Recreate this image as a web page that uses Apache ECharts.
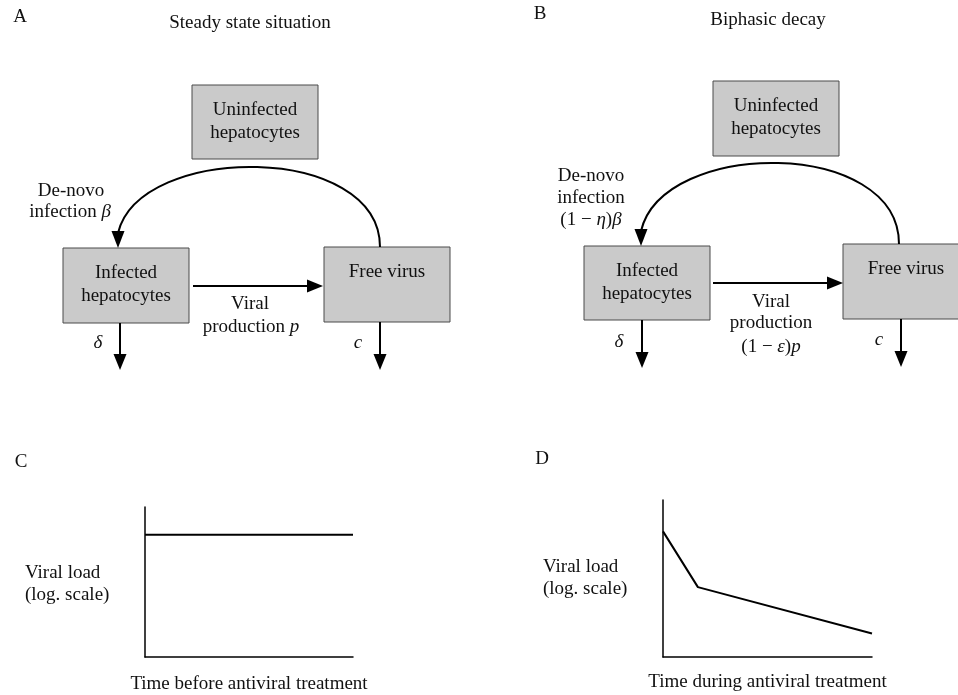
<!DOCTYPE html>
<html><head><meta charset="utf-8">
<script src="https://cdn.jsdelivr.net/npm/echarts@6/dist/echarts.min.js"></script>
<style>html,body{margin:0;padding:0;background:#fff}#c{width:958px;height:695px}</style>
</head><body><div id="c"></div>
<script>
// ---------- Panel C / D : schematic viral load curves ----------
const timeC = [0, 10];
const loadC = [8.15, 8.15];
const timeD = [0, 1.67, 10];
const loadD = [8.0, 4.45, 1.5];
const xNameC = 'Time before antiviral treatment';
const xNameD = 'Time during antiviral treatment';

// ---------- Panels A / B : compartment diagram ----------
const boxNames = ['Uninfected\nhepatocytes', 'Infected\nhepatocytes', 'Free virus'];
const boxIndex = [0, 1, 2, 0, 1, 2];
// layout of the diagram (in diagram units of the hidden canvas grid)
const boxRects = [
  [192, 85, 318, 159], [63, 248, 189, 323], [324, 247, 450, 322],
  [713, 81, 839, 156], [584, 246, 710, 320], [843, 244, 969, 319]
];
const straightArrows = [
  [193, 286, 323, 286], [120, 323, 120, 370], [380, 322, 380, 370],
  [713, 283, 843, 283], [642, 320, 642, 368], [901, 319, 901, 367]
];
const arcArrows = [
  [380, 247, 118, 248, 167],
  [899, 244, 641, 246, 163]
];
const labelTexts = [
  'A', 'Steady state situation', 'B', 'Biphasic decay', 'C', 'D',
  'De-novo', 'infection {m|β}', 'Viral', 'production {m|p}', '{m|δ}', '{m|c}',
  'De-novo', 'infection', '(1 − {m|η}){m|β}', 'Viral', 'production', '(1 − {m|ε}){m|p}', '{m|δ}', '{m|c}',
  'Viral load', '(log. scale)', 'Viral load', '(log. scale)'
];
const labelPos = [
  [20, 17, 0], [250, 23, 0], [540, 14, 0], [768, 20, 0], [21, 462, 0], [542, 459, 0],
  [71, 191, 0], [70, 212, 0], [250, 304, 0], [251, 327, 0], [98, 343, 0], [358, 343, 0],
  [591, 176, 0], [591, 198, 0], [591, 220, 0], [771, 302, 0], [771, 323, 0], [771, 347, 0], [619, 342, 0], [879, 340, 0],
  [25, 573, 1], [25, 595, 1], [543, 567, 1], [543, 589, 1]
];

const FONT = '"Liberation Serif", "Times New Roman", serif';
const rich = { m: { fontFamily: FONT, fontStyle: 'italic', fontSize: 19, fill: '#111' } };

const chart = echarts.init(document.getElementById('c'), null, { renderer: 'canvas' });

function arrowHead(tip, ux, uy, L, W) {
  const bx = tip[0] - ux * L, by = tip[1] - uy * L;
  return {
    type: 'polygon',
    shape: { points: [tip, [bx - uy * W, by + ux * W], [bx + uy * W, by - ux * W]] },
    style: { fill: '#000' }
  };
}

const plainAxis = (gi, extra) => Object.assign({
  type: 'value', gridIndex: gi, min: 0, max: 10,
  axisLine: { show: true, lineStyle: { color: '#000', width: 1.5 } },
  axisTick: { show: false }, axisLabel: { show: false }, splitLine: { show: false }
}, extra || {});

chart.setOption({
  animation: false,
  backgroundColor: '#fff',
  grid: [
    { left: 0, top: 0, width: 958, height: 695 },
    { left: 145, top: 507, width: 208, height: 156 },
    { left: 663, top: 500, width: 209, height: 157 }
  ],
  xAxis: [
    { type: 'value', gridIndex: 0, min: 0, max: 958, show: false },
    plainAxis(1, { name: xNameC, nameLocation: 'middle', nameGap: 18,
      nameTextStyle: { fontFamily: FONT, fontSize: 19, color: '#111', verticalAlign: 'top' } }),
    plainAxis(2, { name: xNameD, nameLocation: 'middle', nameGap: 16,
      nameTextStyle: { fontFamily: FONT, fontSize: 19, color: '#111', verticalAlign: 'top' } })
  ],
  yAxis: [
    { type: 'value', gridIndex: 0, min: 0, max: 695, inverse: true, show: false },
    plainAxis(1),
    plainAxis(2)
  ],
  series: [
    {
      type: 'custom', xAxisIndex: 0, yAxisIndex: 0, silent: true,
      data: boxRects.map((r, i) => r.concat([boxIndex[i]])),
      renderItem: (params, api) => {
        const p0 = api.coord([api.value(0), api.value(1)]);
        const p1 = api.coord([api.value(2), api.value(3)]);
        return {
          type: 'group', children: [
            { type: 'rect', shape: { x: p0[0], y: p0[1], width: p1[0] - p0[0], height: p1[1] - p0[1] },
              style: { fill: '#cacaca', stroke: '#4a4a4a', lineWidth: 1 } },
            { type: 'text', style: { text: boxNames[api.value(4)], x: (p0[0] + p1[0]) / 2, y: p0[1] + 14,
              align: 'center', verticalAlign: 'top', lineHeight: 23,
              font: '19px ' + FONT, fill: '#111' } }
          ]
        };
      }
    },
    {
      type: 'custom', xAxisIndex: 0, yAxisIndex: 0, silent: true,
      data: straightArrows,
      renderItem: (params, api) => {
        const a = api.coord([api.value(0), api.value(1)]);
        const b = api.coord([api.value(2), api.value(3)]);
        const dx = b[0] - a[0], dy = b[1] - a[1], len = Math.hypot(dx, dy);
        const ux = dx / len, uy = dy / len, L = 16;
        return {
          type: 'group', children: [
            { type: 'line', shape: { x1: a[0], y1: a[1], x2: b[0] - ux * (L - 2), y2: b[1] - uy * (L - 2) },
              style: { stroke: '#000', lineWidth: 2 } },
            arrowHead(b, ux, uy, L, 6.5)
          ]
        };
      }
    },
    {
      type: 'custom', xAxisIndex: 0, yAxisIndex: 0, silent: true,
      data: arcArrows,
      renderItem: (params, api) => {
        const s = api.coord([api.value(0), api.value(1)]);
        const e = api.coord([api.value(2), api.value(3)]);
        const peak = api.coord([0, api.value(4)])[1];
        const L = 17;
        const ey = e[1] - L + 2;
        const cy = (peak - 0.125 * (s[1] + ey)) / 0.75;
        return {
          type: 'group', children: [
            { type: 'bezierCurve', shape: { x1: s[0], y1: s[1], cpx1: s[0], cpy1: cy, cpx2: e[0] + 22, cpy2: cy, x2: e[0], y2: ey },
              style: { stroke: '#000', lineWidth: 2, fill: null } },
            arrowHead(e, 0, 1, L, 6.5)
          ]
        };
      }
    },
    {
      type: 'custom', xAxisIndex: 0, yAxisIndex: 0, silent: true,
      data: labelPos.map((p, i) => [p[0], p[1], p[2], i]),
      renderItem: (params, api) => {
        const p = api.coord([api.value(0), api.value(1)]);
        const idx = api.value(3);
        return {
          type: 'text', style: {
            text: labelTexts[idx], x: p[0], y: p[1],
            align: api.value(2) === 1 ? 'left' : 'center', verticalAlign: 'middle',
            font: '19px ' + FONT, fill: '#111', rich: rich
          }
        };
      }
    },
    {
      type: 'line', xAxisIndex: 1, yAxisIndex: 1, showSymbol: false, silent: true,
      data: timeC.map((t, i) => [t, loadC[i]]),
      lineStyle: { color: '#000', width: 2 }
    },
    {
      type: 'line', xAxisIndex: 2, yAxisIndex: 2, showSymbol: false, silent: true,
      data: timeD.map((t, i) => [t, loadD[i]]),
      lineStyle: { color: '#000', width: 2 }
    }
  ]
});
</script></body></html>
